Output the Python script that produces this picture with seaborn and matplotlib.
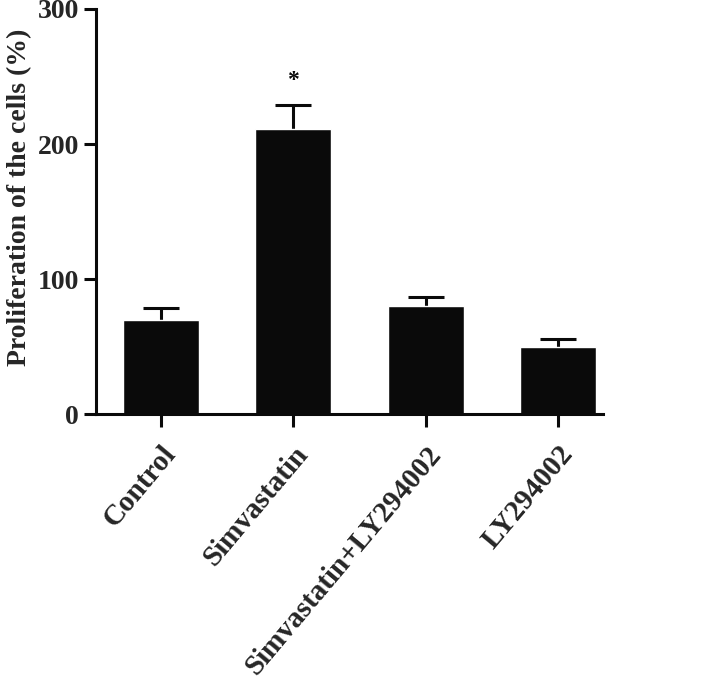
import matplotlib
matplotlib.use("Agg")
import matplotlib.pyplot as plt
import matplotlib.transforms as mtransforms
import numpy as np
import pandas as pd
import seaborn as sns

groups = ["Control", "Simvastatin", "Simvastatin+LY294002", "LY294002"]
means = [70, 211, 80, 50]
sems = [9, 18, 7, 6]
star_groups = ["Simvastatin"]
y_ticks = [0, 100, 200, 300]

sns.set_theme(style="ticks")
plt.rcParams["font.family"] = ["Liberation Serif", "DejaVu Serif"]
plt.rcParams["font.weight"] = "bold"

df = pd.DataFrame({"group": groups, "mean": means, "sem": sems})

fig = plt.figure(figsize=(7.09, 6.86), dpi=100)
ax = fig.add_axes([0.135, 0.396, 0.716, 0.591])

ink = "#0a0a0a"
x = np.arange(len(groups))
top = df["mean"] + df["sem"]
# upper-only error bars, drawn behind the bars
ax.vlines(x, df["mean"], top, color=ink, linewidth=2.2, zorder=0)
ax.hlines(top, x - 0.135, x + 0.135, color=ink, linewidth=2.2, zorder=0)

sns.barplot(data=df, x="group", y="mean", color=ink, saturation=1,
            width=0.575, errorbar=None, ax=ax, zorder=2)

for g in star_groups:
    i = groups.index(g)
    ax.text(i, means[i] + sems[i] + 18, "*", ha="center", va="center",
            fontsize=17, fontweight="bold", color=ink)

ax.set_ylim(0, 300)
ax.set_xlim(-0.49, 3.34)
ax.set_yticks(y_ticks)
ax.set_yticklabels([str(t) for t in y_ticks], fontsize=20, fontweight="bold")
ax.set_xticks(x)
ax.set_xticklabels(groups, rotation=50, ha="right", rotation_mode="anchor",
                   fontsize=21, fontweight="bold")
shift = mtransforms.ScaledTranslation(-6 / 100, 0, fig.dpi_scale_trans)
for lab in ax.get_xticklabels():
    lab.set_transform(lab.get_transform() + shift)
ax.set_xlabel("")
ax.set_ylabel("Proliferation of the cells (%)", fontsize=20, fontweight="bold")
ax.yaxis.set_label_coords(-0.126, 0.536)

sns.despine(ax=ax)
for s in ["left", "bottom"]:
    ax.spines[s].set_linewidth(2.2)
    ax.spines[s].set_color(ink)
ax.tick_params(axis="both", width=2.2, length=9, color=ink, pad=3)
ax.tick_params(axis="x", pad=10)

fig.savefig("out.png", dpi=100)
